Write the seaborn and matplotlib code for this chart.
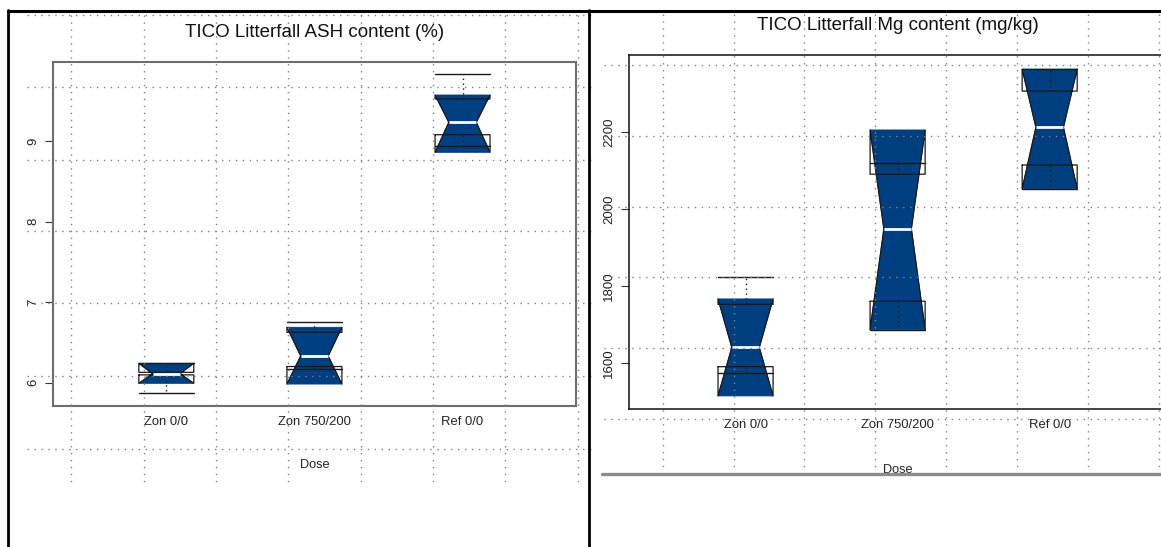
import numpy as np
import matplotlib
matplotlib.use("Agg")
import matplotlib.pyplot as plt
from matplotlib.lines import Line2D
import seaborn as sns

# ---- data -------------------------------------------------------------
doses = ["Zon 0/0", "Zon 750/200", "Ref 0/0"]

# litterfall ash content (%)
ash_whislo = [5.866, 6.168, 8.945]
ash_cilo = [5.990, 5.981, 8.863]
ash_q1 = [6.095, 6.199, 9.082]
ash_med = [6.110, 6.330, 9.236]
ash_q3 = [6.127, 6.624, 9.527]
ash_cihi = [6.239, 6.687, 9.576]
ash_whishi = [6.239, 6.749, 9.833]
ash_ticks = [6, 7, 8, 9]

# litterfall magnesium content (mg/kg)
mg_whislo = [1574, 1686, 2052]
mg_cilo = [1514, 1686, 2052]
mg_q1 = [1590, 1760, 2114]
mg_med = [1640, 1948, 2212]
mg_q3 = [1752, 2090, 2306]
mg_cihi = [1766, 2205, 2363]
mg_whishi = [1822, 2118, 2363]
mg_ticks = [1600, 1800, 2000, 2200]

BLUE = "#003f7f"
W, H = 1161, 547

sns.set_theme(style="white")
plt.rcParams["font.family"] = ["Liberation Sans", "DejaVu Sans"]


def make_stats(whislo, cilo, q1, med, q3, cihi, whishi):
    out = []
    for i, lab in enumerate(doses):
        out.append(dict(label=lab, whislo=whislo[i], cilo=cilo[i], q1=q1[i],
                        med=med[i], q3=q3[i], cihi=cihi[i], whishi=whishi[i],
                        fliers=[]))
    return out


def notched_boxes(ax, stats, width):
    pos = np.arange(len(stats))
    # hourglass fill between the notch limits
    for p, s in zip(pos, stats):
        lft, rgt = p - width / 2, p + width / 2
        nl, nr = p - width / 4, p + width / 4
        ax.fill([lft, rgt, nr, rgt, lft, nl],
                [s["cihi"], s["cihi"], s["med"], s["cilo"], s["cilo"], s["med"]],
                color=BLUE, lw=0.6, ec=BLUE, zorder=2)
    ax.bxp(stats, positions=pos, widths=width, capwidths=width, shownotches=True,
           showfliers=False, patch_artist=False, zorder=3,
           boxprops=dict(color="#1a1a1a", lw=0.9),
           whiskerprops=dict(color="#1a1a1a", lw=1.0, ls=(0, (1, 2.5))),
           capprops=dict(color="#1a1a1a", lw=1.0),
           medianprops=dict(color="white", lw=2.0))


def style_axis(ax, ticks, spine_color, spine_lw, xlabelpad):
    ax.set_yticks(ticks)
    ax.set_yticklabels([str(t) for t in ticks], rotation=90, va="center",
                       fontsize=9.5, color="#222222")
    ax.tick_params(axis="y", left=True, length=6, width=0.8, color="#333333",
                   direction="out", pad=4)
    ax.set_xticks(range(len(doses)))
    ax.set_xticklabels(doses, fontsize=9.4, color="#222222")
    ax.tick_params(axis="x", bottom=False, length=0, pad=7)
    for sp in ax.spines.values():
        sp.set_color(spine_color)
        sp.set_linewidth(spine_lw)
    ax.set_xlabel("Dose", fontsize=9.2, color="#222222", labelpad=xlabelpad)
    ax.grid(False)


fig = plt.figure(figsize=(W / 100, H / 100), dpi=100)
fig.patch.set_facecolor("white")

# left panel: ash
ax1 = fig.add_axes([53 / W, 1 - 406 / H, 523 / W, 344.2 / H])
notched_boxes(ax1, make_stats(ash_whislo, ash_cilo, ash_q1, ash_med, ash_q3,
                              ash_cihi, ash_whishi), 0.371)
ax1.set_xlim(-0.765, 2.766)
ax1.set_ylim(5.708, 9.989)
style_axis(ax1, ash_ticks, "#6e6e6e", 1.5, 22.5)
ax1.set_title("TICO Litterfall ASH content (%)", fontsize=13.5, pad=18, color="#111111")

# right panel: magnesium
ax2 = fig.add_axes([629.3 / W, 1 - 409 / H, 536.7 / W, 353.9 / H])
notched_boxes(ax2, make_stats(mg_whislo, mg_cilo, mg_q1, mg_med, mg_q3,
                              mg_cihi, mg_whishi), 0.362)
ax2.set_xlim(-0.7645, 2.765)
ax2.set_ylim(1480, 2399.5)
style_axis(ax2, mg_ticks, "#111111", 1.1, 24)
ax2.set_title("TICO Litterfall Mg content (mg/kg)", fontsize=13.5, pad=18, color="#111111")


def fline(xs, ys, **kw):
    fig.add_artist(Line2D([x / W for x in xs], [1 - y / H for y in ys],
                          transform=fig.transFigure, **kw))


dot = dict(color="#808080", lw=1.0, ls=(0, (1, 4)), zorder=5)

# dotted guide grid, left panel
for y in [14.7, 87.2, 159.8, 231.4, 303.0, 375.9, 449.0]:
    fline([27, 593], [y, y], **dot)
for x in [70.7, 144.0, 216.3, 288.4, 361.0, 433.0, 505.0, 578.0]:
    fline([x, x], [14.7, 485], **dot)

# dotted guide grid, right panel
for y in [64.6, 136.0, 206.6, 277.4, 348.0, 418.8]:
    fline([604, 1161], [y, y], **dot)
for x in [662.8, 733.9, 804.5, 874.8, 946.2, 1016.8, 1087.5, 1158.9]:
    fline([x, x], [14, 470], **dot)

# panel frames
fline([8, 8], [10, 547], color="black", lw=2.0, zorder=6)
fline([8, 1161], [10.5, 10.5], color="black", lw=2.2, zorder=6)
fline([589, 589], [10, 547], color="black", lw=2.0, zorder=6)
fline([602, 1161], [474, 474], color="#8c8c8c", lw=2.4, zorder=6)

fig.savefig("out.png", dpi=100, facecolor="white")
